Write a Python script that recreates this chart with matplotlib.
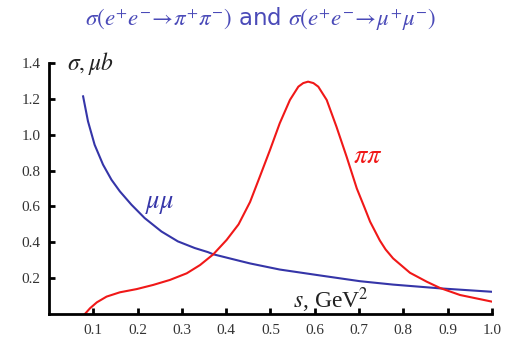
import matplotlib.pyplot as plt

plt.rcParams['mathtext.fontset'] = 'stix'

# e+e- -> mu+mu- cross section (mub) vs s (GeV^2)
s_mumu = [0.077, 0.088, 0.103, 0.122, 0.141, 0.160, 0.186, 0.216, 0.254, 0.291,
          0.329, 0.359, 0.371, 0.431, 0.454, 0.521, 0.612, 0.702, 0.777, 0.883, 1.0]
sig_mumu = [1.214, 1.075, 0.944, 0.833, 0.749, 0.684, 0.61, 0.535, 0.46, 0.405,
            0.368, 0.345, 0.333, 0.296, 0.282, 0.248, 0.215, 0.183, 0.164, 0.143, 0.124]

# e+e- -> pi+pi- cross section (mub), rho peak
s_pipi = [0.081, 0.0926, 0.108, 0.130, 0.160, 0.198, 0.235, 0.273, 0.311, 0.341,
          0.371, 0.401, 0.428, 0.454, 0.476, 0.499, 0.521, 0.544, 0.563, 0.574,
          0.585, 0.597, 0.608, 0.627, 0.649, 0.672, 0.695, 0.713, 0.725, 0.747,
          0.76, 0.777, 0.815, 0.853, 0.883, 0.928, 1.0]
sig_pipi = [0.0, 0.032, 0.065, 0.097, 0.121, 0.139, 0.162, 0.19, 0.227, 0.273,
            0.333, 0.413, 0.50, 0.625, 0.766, 0.915, 1.064, 1.194, 1.268, 1.288,
            1.296, 1.288, 1.268, 1.194, 1.045, 0.877, 0.70, 0.59, 0.515, 0.41,
            0.36, 0.31, 0.23, 0.18, 0.145, 0.106, 0.069]

xticks = [0.1, 0.2, 0.3, 0.4, 0.5, 0.6, 0.7, 0.8, 0.9, 1.0]
yticks = [0.2, 0.4, 0.6, 0.8, 1.0, 1.2, 1.4]

fig = plt.figure(figsize=(5.18, 3.38), dpi=100)
ax = fig.add_axes([0.0946, 0.071, 0.855, 0.7426])

ax.plot(s_mumu, sig_mumu, color='#3535a8', lw=1.5, solid_joinstyle='round')
ax.plot(s_pipi, sig_pipi, color='#f01818', lw=1.5, solid_joinstyle='round')

ax.set_xlim(0, 1.0)
ax.set_ylim(0, 1.4)
ax.set_xticks(xticks)
ax.set_yticks(yticks)
ax.set_xticklabels(['%.1f' % v for v in xticks], family='Liberation Serif', fontsize=11, color='#333333')
ax.set_yticklabels(['%.1f' % v for v in yticks], family='Liberation Serif', fontsize=11, color='#333333')
ax.tick_params(direction='in', length=4, width=2)
ax.tick_params(axis='x', pad=7)
ax.tick_params(axis='y', pad=6)
for side in ['top', 'right']:
    ax.spines[side].set_visible(False)
for side in ['left', 'bottom']:
    ax.spines[side].set_linewidth(2)

ax.text(0.04, 1.4, r'$\sigma, \mu b$', fontsize=17, va='center', ha='left', color='#222222')
ax.text(0.637, 0.075, r'$s$, GeV$^2$', fontsize=17, family='Liberation Serif',
        va='center', ha='center', color='#222222')
ax.text(0.25, 0.62, r'$\mu\mu$', fontsize=19, color='#3535a8', ha='center', va='center')
ax.text(0.72, 0.88, r'$\pi\pi$', fontsize=19, color='#f01818', ha='center', va='center')

fig.text(0.503, 0.945,
         r'$\sigma(e^{+}e^{-}\!\rightarrow\!\pi^{+}\pi^{-})$ and $\sigma(e^{+}e^{-}\!\rightarrow\!\mu^{+}\mu^{-})$',
         fontsize=16.5, color='#4a4ab8', ha='center', va='center')

fig.savefig('out.png', dpi=100)
